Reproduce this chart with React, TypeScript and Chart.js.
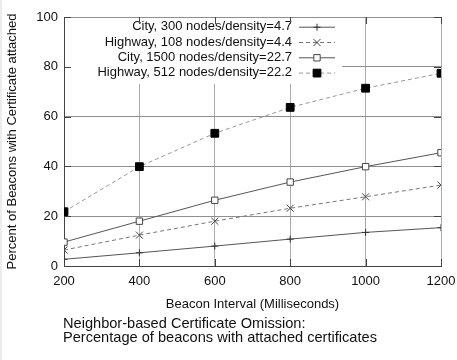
import React, { useEffect, useRef } from 'react';
import { Chart, registerables } from 'chart.js';

Chart.register(...registerables);

const intervals = [200, 400, 600, 800, 1000, 1200];
const city300 = [2.7, 5.3, 8.0, 10.8, 13.5, 15.4];
const highway108 = [6.4, 12.4, 18.0, 23.2, 27.8, 32.5];
const city1500 = [9.6, 18.0, 26.4, 33.7, 39.9, 45.5];
const highway512 = [21.8, 39.9, 53.3, 63.7, 71.4, 77.4];
const seriesLabels = [
  'City, 300 nodes/density=4.7',
  'Highway, 108 nodes/density=4.4',
  'City, 1500 nodes/density=22.7',
  'Highway, 512 nodes/density=22.2',
];
const xTitle = 'Beacon Interval (Milliseconds)';
const yTitle = 'Percent of Beacons with Certificate attached';
const captionLines = [
  'Neighbor-based Certificate Omission:',
  'Percentage of beacons with attached certificates',
];

const FONT = '"Liberation Sans", Arial, Helvetica, sans-serif';

type Style = {
  line: string;
  dash: number[];
  point: string;
  radius: number;
  pointFill: string;
  pointStroke: string;
};

const styles: Style[] = [
  { line: '#555', dash: [], point: 'cross', radius: 3.5, pointFill: '#333', pointStroke: '#333' },
  { line: '#777', dash: [4, 3], point: 'crossRot', radius: 5, pointFill: '#444', pointStroke: '#444' },
  { line: '#555', dash: [], point: 'rect', radius: 4.5, pointFill: '#fff', pointStroke: '#444' },
  { line: '#999', dash: [4, 3], point: 'rect', radius: 5.5, pointFill: '#000', pointStroke: '#000' },
];

function drawMarker(ctx: CanvasRenderingContext2D, s: Style, x: number, y: number) {
  ctx.save();
  ctx.setLineDash([]);
  ctx.lineWidth = 1;
  ctx.strokeStyle = s.pointStroke;
  ctx.fillStyle = s.pointFill;
  const r = s.radius;
  ctx.beginPath();
  if (s.point === 'cross') {
    ctx.moveTo(x - r, y);
    ctx.lineTo(x + r, y);
    ctx.moveTo(x, y - r);
    ctx.lineTo(x, y + r);
    ctx.stroke();
  } else if (s.point === 'crossRot') {
    const d = r * Math.SQRT1_2;
    ctx.moveTo(x - d, y - d);
    ctx.lineTo(x + d, y + d);
    ctx.moveTo(x - d, y + d);
    ctx.lineTo(x + d, y - d);
    ctx.stroke();
  } else {
    const h = r * Math.SQRT1_2;
    ctx.rect(x - h, y - h, 2 * h, 2 * h);
    ctx.fill();
    ctx.stroke();
  }
  ctx.restore();
}

const keyPlugin = {
  id: 'gnuKey',
  beforeDatasetsDraw(chart: any) {
    const { ctx, chartArea: ca } = chart;
    const xs = chart.scales.x;
    const ys = chart.scales.y;
    ctx.save();
    // key background hides the grid
    ctx.fillStyle = '#fff';
    const boxRight = ca.right - 99;
    const boxBottom = ca.top + 67;
    ctx.fillRect(ca.left + 1, ca.top + 1, boxRight - ca.left - 1, boxBottom - ca.top - 1);

    // key entries
    ctx.font = `13px ${FONT}`;
    ctx.textAlign = 'right';
    ctx.textBaseline = 'middle';
    const textRight = ca.right - 149;
    const sampleL = ca.right - 142;
    const sampleR = ca.right - 106;
    const markX = ca.right - 124;
    seriesLabels.forEach((label, i) => {
      const y = ca.top + 9.7 + i * 15.3;
      ctx.fillStyle = '#111';
      ctx.fillText(label, textRight, y);
      const s = styles[i];
      ctx.save();
      ctx.strokeStyle = s.line;
      ctx.lineWidth = 1;
      ctx.setLineDash(s.dash);
      ctx.beginPath();
      ctx.moveTo(sampleL, y + 0.5);
      ctx.lineTo(sampleR, y + 0.5);
      ctx.stroke();
      ctx.restore();
      drawMarker(ctx, s, markX, y + 0.5);
    });

    // inward tick marks (gnuplot style, mirrored)
    ctx.strokeStyle = '#444';
    ctx.lineWidth = 1;
    ctx.setLineDash([]);
    const tl = 7;
    ctx.beginPath();
    xs.ticks.forEach((t: any) => {
      const px = Math.round(xs.getPixelForValue(t.value)) + 0.5;
      ctx.moveTo(px, ca.bottom);
      ctx.lineTo(px, ca.bottom - tl);
      ctx.moveTo(px, ca.top);
      ctx.lineTo(px, ca.top + tl);
    });
    ys.ticks.forEach((t: any) => {
      const py = Math.round(ys.getPixelForValue(t.value)) + 0.5;
      ctx.moveTo(ca.left, py);
      ctx.lineTo(ca.left + tl, py);
      ctx.moveTo(ca.right, py);
      ctx.lineTo(ca.right - tl, py);
    });
    ctx.stroke();
    ctx.restore();
  },
};

export default function App() {
  const canvasRef = useRef<HTMLCanvasElement | null>(null);

  useEffect(() => {
    document.body.style.margin = '0';
    const canvas = canvasRef.current;
    if (!canvas) return;
    const seriesData = [city300, highway108, city1500, highway512];
    const chart = new Chart(canvas, {
      type: 'line',
      data: {
        datasets: seriesData.map((vals, i) => {
          const s = styles[i];
          return {
            label: seriesLabels[i],
            data: intervals.map((x, j) => ({ x, y: vals[j] })),
            borderColor: s.line,
            borderWidth: 1,
            borderDash: s.dash,
            pointStyle: s.point as any,
            pointRadius: s.radius,
            pointBackgroundColor: s.pointFill,
            pointBorderColor: s.pointStroke,
            pointBorderWidth: 1,
            fill: false,
            tension: 0,
          };
        }),
      },
      options: {
        responsive: false,
        animation: false,
        devicePixelRatio: 1,
        layout: { padding: { left: 0, right: 16, top: 17, bottom: 48 } },
        plugins: {
          legend: { display: false },
          tooltip: { enabled: false },
        },
        scales: {
          x: {
            type: 'linear',
            min: 200,
            max: 1200,
            ticks: {
              stepSize: 200,
              padding: 8,
              color: '#111',
              font: { family: FONT, size: 13 },
              maxRotation: 0,
              callback: (v: any) => String(v),
            },
            grid: { color: '#aaa', drawTicks: false, lineWidth: 1 },
            border: { display: true, color: '#444' },
            title: {
              display: true,
              text: xTitle,
              color: '#111',
              font: { family: FONT, size: 13 },
              padding: { top: 0, bottom: 0 },
            },
            afterFit: (s: any) => {
              s.height = 46;
              s.paddingLeft = 0;
              s.paddingRight = 0;
            },
          },
          y: {
            type: 'linear',
            min: 0,
            max: 100,
            ticks: {
              stepSize: 20,
              padding: 6,
              color: '#111',
              font: { family: FONT, size: 13 },
              callback: (v: any) => String(v),
            },
            grid: { color: '#8f8f8f', drawTicks: false, lineWidth: 1 },
            border: { display: true, color: '#444' },
            title: {
              display: true,
              text: yTitle,
              color: '#111',
              font: { family: FONT, size: 13 },
              padding: { top: 5, bottom: 0 },
            },
            afterFit: (s: any) => {
              s.width = 64;
              s.paddingTop = 0;
              s.paddingBottom = 0;
            },
          },
        },
      },
      plugins: [keyPlugin],
    });
    return () => chart.destroy();
  }, []);

  return (
    <div style={{ position: 'relative', width: 457, height: 360, background: '#fff', overflow: 'hidden' }}>
      <canvas ref={canvasRef} width={457} height={360} style={{ display: 'block' }} />
      <div
        style={{
          position: 'absolute',
          left: 0,
          top: 0,
          width: 2,
          height: 360,
          background: '#ececea',
        }}
      />
      <div
        style={{
          position: 'absolute',
          left: 63,
          top: 315.5,
          fontFamily: FONT,
          fontSize: 14.6,
          lineHeight: '14.7px',
          color: '#111',
          whiteSpace: 'nowrap',
        }}
      >
        {captionLines.map((l, i) => (
          <div key={i}>{l}</div>
        ))}
      </div>
    </div>
  );
}
